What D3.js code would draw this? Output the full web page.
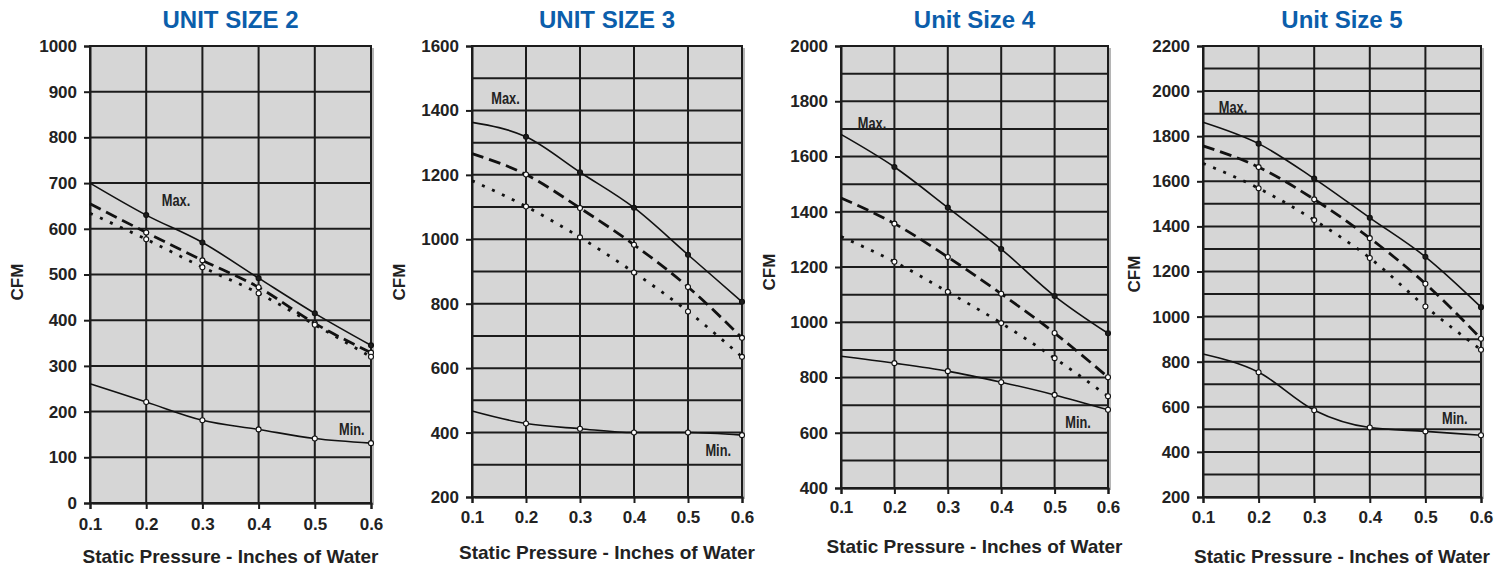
<!DOCTYPE html>
<html>
<head>
<meta charset="utf-8">
<script src="https://cdn.jsdelivr.net/npm/d3@7"></script>
<style>
  body { margin: 0; background: #fff; }
  text { font-family: "Liberation Sans", Arial, sans-serif; }
</style>
</head>
<body>
<script>
// static pressure (in. of water) on every x axis
const pressure = [0.1, 0.2, 0.3, 0.4, 0.5, 0.6];

const titles = ['UNIT SIZE 2', 'UNIT SIZE 3', 'Unit Size 4', 'Unit Size 5'];
const yLow = [0, 200, 400, 200];
const yHigh = [1000, 1600, 2000, 2200];
const yLabelStep = [100, 200, 200, 200];

// CFM, one row per unit size
const maxCfm = [
  [700, 630, 570, 492, 415, 345],
  [1363, 1318, 1208, 1098, 952, 806],
  [1680, 1562, 1415, 1265, 1095, 960],
  [1862, 1767, 1612, 1438, 1265, 1042]
];
const dashCfm = [
  [655, 592, 531, 472, 393, 329],
  [1266, 1201, 1097, 983, 852, 694],
  [1450, 1357, 1236, 1103, 961, 801],
  [1757, 1663, 1520, 1348, 1146, 902]
];
const dotCfm = [
  [634, 577, 516, 459, 390, 320],
  [1182, 1102, 1006, 897, 776, 635],
  [1310, 1219, 1110, 997, 870, 732],
  [1680, 1569, 1428, 1260, 1045, 853]
];
const minCfm = [
  [261, 221, 181, 161, 141, 131],
  [467, 428, 412, 400, 400, 392],
  [877, 852, 823, 783, 737, 683],
  [834, 753, 585, 508, 491, 474]
];

// where the "Max." / "Min." notes sit, in chart units [pressure, cfm]
const maxNote = [[0.253, 663], [0.162, 1439], [0.158, 1721], [0.154, 1929]];
const minNote = [[0.566, 162], [0.556, 345], [0.544, 639], [0.553, 550]];

const W = 1509, H = 568;

const boxes = [
  {left: 90, right: 371, top: 46, bottom: 503, cfmX: 17, cfmY: 282, tickPad: 9, titleY: 563},
  {left: 472, right: 742, top: 46, bottom: 497, cfmX: 399, cfmY: 282, tickPad: 8, titleY: 559},
  {left: 841, right: 1108, top: 46, bottom: 488, cfmX: 769, cfmY: 272, tickPad: 7, titleY: 553},
  {left: 1203, right: 1481, top: 46, bottom: 497, cfmX: 1134, cfmY: 274, tickPad: 8, titleY: 563}
];

const svg = d3.select('body')
  .append('svg')
  .attr('width', W)
  .attr('height', H);

const ink = '#1c1c1c';

titles.forEach((title, i) => {
  const b = boxes[i];
  const x = d3.scaleLinear().domain([0.1, 0.6]).range([b.left, b.right]);
  const y = d3.scaleLinear().domain([yLow[i], yHigh[i]]).range([b.bottom, b.top]);
  const g = svg.append('g');

  /* plot background with a soft shadow on the right */
  g.append('rect')
    .attr('x', b.left + 3).attr('y', b.top + 2)
    .attr('width', b.right - b.left).attr('height', b.bottom - b.top)
    .attr('fill', '#b5b5b5');
  g.append('rect')
    .attr('x', b.left).attr('y', b.top)
    .attr('width', b.right - b.left).attr('height', b.bottom - b.top)
    .attr('fill', '#d6d6d6');

  /* grid: every 0.1 across, every 100 cfm up */
  g.append('g')
    .selectAll('line')
    .data(d3.range(yLow[i], yHigh[i] + 1, 100))
    .enter()
    .append('line')
    .attr('x1', b.left).attr('x2', b.right)
    .attr('y1', d => y(d)).attr('y2', d => y(d))
    .attr('stroke', ink).attr('stroke-width', 2);

  g.append('g')
    .selectAll('line')
    .data(pressure)
    .enter()
    .append('line')
    .attr('x1', d => x(d)).attr('x2', d => x(d))
    .attr('y1', b.top).attr('y2', b.bottom)
    .attr('stroke', ink).attr('stroke-width', 2);

  /* axes */
  const yAxis = g.append('g')
    .attr('transform', `translate(${b.left},0)`)
    .call(d3.axisLeft(y)
      .tickValues(d3.range(yLow[i], yHigh[i] + 1, yLabelStep[i]))
      .tickFormat(d3.format('d'))
      .tickSize(6).tickPadding(7));

  const xAxis = g.append('g')
    .attr('transform', `translate(0,${b.bottom})`)
    .call(d3.axisBottom(x)
      .tickValues(pressure)
      .tickFormat(d3.format('.1f'))
      .tickSize(6).tickPadding(b.tickPad));

  [yAxis, xAxis].forEach(ax => {
    ax.attr('font-size', null);
    ax.select('.domain').attr('stroke', ink).attr('stroke-width', 2);
    ax.selectAll('.tick line').attr('stroke', ink).attr('stroke-width', 2);
    ax.selectAll('.tick text')
      .attr('fill', '#222')
      .style('font-size', '17px')
      .style('font-weight', 'bold')
      .style('font-family', '"Liberation Sans", Arial, sans-serif');
  });

  /* outer frame */
  g.append('rect')
    .attr('x', b.left).attr('y', b.top)
    .attr('width', b.right - b.left).attr('height', b.bottom - b.top)
    .attr('fill', 'none').attr('stroke', ink).attr('stroke-width', 2);

  /* curves */
  const line = d3.line()
    .x((d, k) => x(pressure[k]))
    .y(d => y(d))
    .curve(d3.curveMonotoneX);

  const series = [
    {values: maxCfm[i], dash: null, width: 1.6, dotFill: ink},
    {values: dashCfm[i], dash: '12,6', width: 2.8, dotFill: '#fff'},
    {values: dotCfm[i], dash: '3,8', width: 2.8, dotFill: '#fff'},
    {values: minCfm[i], dash: null, width: 1.6, dotFill: '#fff'}
  ];

  series.forEach(s => {
    g.append('path')
      .datum(s.values)
      .attr('d', line)
      .attr('fill', 'none')
      .attr('stroke', '#111')
      .attr('stroke-width', s.width)
      .attr('stroke-dasharray', s.dash);

    g.append('g')
      .selectAll('circle')
      .data(s.values.slice(1))
      .enter()
      .append('circle')
      .attr('cx', (d, k) => x(pressure[k + 1]))
      .attr('cy', d => y(d))
      .attr('r', 2.5)
      .attr('fill', s.dotFill)
      .attr('stroke', '#111')
      .attr('stroke-width', 1.1);
  });

  /* Max. / Min. notes, narrow bold type */
  [['Max.', maxNote[i]], ['Min.', minNote[i]]].forEach(([txt, at]) => {
    g.append('text')
      .attr('transform', `translate(${x(at[0])},${y(at[1])}) scale(0.8,1)`)
      .attr('dy', '0.36em')
      .attr('text-anchor', 'middle')
      .attr('font-size', 16)
      .attr('font-weight', 'bold')
      .attr('fill', '#222')
      .text(txt);
  });

  /* titles */
  g.append('text')
    .attr('x', (b.left + b.right) / 2)
    .attr('y', 28)
    .attr('text-anchor', 'middle')
    .attr('font-size', 24)
    .attr('font-weight', 'bold')
    .attr('fill', '#0b5eab')
    .text(title);

  g.append('text')
    .attr('transform', `translate(${b.cfmX + 6},${b.cfmY}) rotate(-90)`)
    .attr('text-anchor', 'middle')
    .attr('font-size', 17)
    .attr('font-weight', 'bold')
    .attr('fill', '#222')
    .text('CFM');

  g.append('text')
    .attr('x', (b.left + b.right) / 2)
    .attr('y', b.titleY)
    .attr('text-anchor', 'middle')
    .attr('font-size', 19)
    .attr('font-weight', 'bold')
    .attr('fill', '#222')
    .text('Static Pressure - Inches of Water');
});
</script>
</body>
</html>
